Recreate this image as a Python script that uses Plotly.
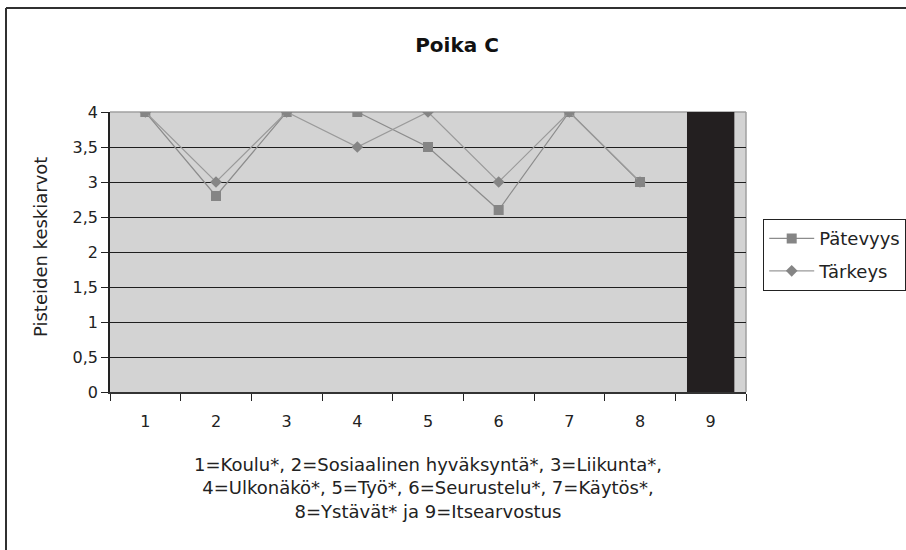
import plotly.graph_objects as go

# Category codes on the x axis and the two rated series
categories = ["1", "2", "3", "4", "5", "6", "7", "8", "9"]
patevyys = [4, 2.8, 4, 4, 3.5, 2.6, 4, 3, None]
tarkeys = [4, 3, 4, 3.5, 4, 3, 4, 3, None]
# Self-esteem (category 9) shown as a single column
itsearvostus_cat = ["9"]
itsearvostus = [4]

y_ticks = [0, 0.5, 1, 1.5, 2, 2.5, 3, 3.5, 4]

W, H = 906, 550
L, R, T, B = 110, 746, 112, 392  # plot area in pixels


def px(x):
    return (x - L) / (R - L)


def py(y):
    return (B - y) / (B - T)


FONT = "DejaVu Sans"

fig = go.Figure()

fig.add_trace(go.Bar(
    x=itsearvostus_cat, y=itsearvostus,
    marker=dict(color="#231f20", line=dict(width=0)),
    showlegend=False, hoverinfo="skip",
))

fig.add_trace(go.Scatter(
    x=categories, y=patevyys, name="Pätevyys",
    mode="lines+markers", legendgroup="p",
    line=dict(color="#8c8c8c", width=1.2),
    marker=dict(symbol="square", size=10, color="#858585"),
))

fig.add_trace(go.Scatter(
    x=categories, y=tarkeys, name="Tärkeys",
    mode="lines+markers", legendgroup="t",
    line=dict(color="#9a9a9a", width=1.2),
    marker=dict(symbol="diamond", size=9, color="#858585"),
))

shapes = [
    # top and right edges of the plot area
    dict(type="line", xref="paper", yref="paper", x0=0, x1=1, y0=1, y1=1,
         line=dict(color="#a0a0a0", width=1.5), layer="between"),
    dict(type="line", xref="paper", yref="paper", x0=1, x1=1, y0=0, y1=1,
         line=dict(color="#a0a0a0", width=1.5), layer="between"),
    # outer chart frame (left and top)
    dict(type="line", xref="paper", yref="paper", x0=px(6), x1=px(6),
         y0=py(8), y1=py(560), line=dict(color="#303030", width=2)),
    dict(type="line", xref="paper", yref="paper", x0=px(6), x1=px(920),
         y0=py(8), y1=py(8), line=dict(color="#303030", width=2)),
]

annotations = [
    dict(text="1=Koulu*, 2=Sosiaalinen hyväksyntä*, 3=Liikunta*,<br>"
              "4=Ulkonäkö*, 5=Työ*, 6=Seurustelu*, 7=Käytös*,<br>"
              "8=Ystävät* ja 9=Itsearvostus",
         xref="paper", yref="paper", x=px(428), y=py(452),
         xanchor="center", yanchor="top", showarrow=False,
         font=dict(family=FONT, size=18, color="#222"), align="center"),
    dict(text="Pisteiden keskiarvot", textangle=-90,
         xref="paper", yref="paper", x=px(40), y=py(247),
         xanchor="center", yanchor="middle", showarrow=False,
         font=dict(family=FONT, size=18, color="#222")),
]

fig.update_layout(
    width=W, height=H,
    margin=dict(l=L, r=W - R, t=T, b=H - B, pad=0, autoexpand=False),
    paper_bgcolor="white",
    plot_bgcolor="#d3d3d3",
    separators=", ",
    bargap=0.33,
    title=dict(text="<b>Poika C</b>", x=px(457), xref="paper", xanchor="center",
               y=1 - 45 / H, yanchor="middle",
               font=dict(family=FONT, size=20, color="#111")),
    font=dict(family=FONT, size=16, color="#222"),
    showlegend=True,
    legend=dict(
        x=px(763), y=py(219), xanchor="left", yanchor="top",
        bgcolor="white", bordercolor="#222", borderwidth=1.2,
        font=dict(family=FONT, size=18, color="#222"),
        tracegroupgap=6, traceorder="grouped", itemwidth=45,
    ),
    shapes=shapes,
    annotations=annotations,
)

fig.update_xaxes(
    type="category", categoryorder="array", categoryarray=categories,
    range=[-0.5, 8.5], tickson="boundaries",
    ticks="outside", ticklen=7, tickcolor="#222", tickwidth=1.3,
    ticklabelstandoff=14,
    showline=True, linecolor="#333", linewidth=1.5,
    showgrid=False, zeroline=False,
    tickfont=dict(family=FONT, size=16, color="#222"),
)

fig.update_yaxes(
    range=[0, 4], tickvals=y_ticks, tickformat=".1~f",
    ticks="outside", ticklen=7, tickcolor="#222", tickwidth=1.3,
    showline=True, linecolor="#222", linewidth=1.5,
    showgrid=True, gridcolor="#1e1e1e", gridwidth=1.4,
    zeroline=False,
    tickfont=dict(family=FONT, size=16, color="#222"),
)

fig.write_html("out.html")
